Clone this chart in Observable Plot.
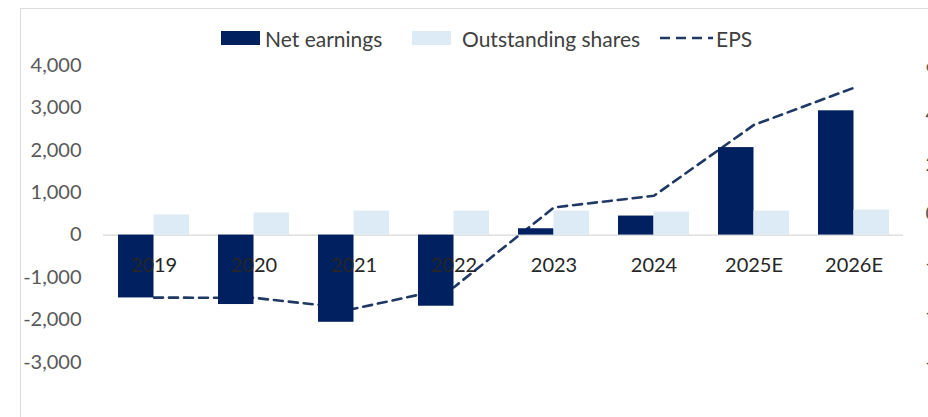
<!DOCTYPE html>
<html><head><meta charset="utf-8">
<script src="https://cdn.jsdelivr.net/npm/d3@7"></script>
<script src="https://cdn.jsdelivr.net/npm/@observablehq/plot@0.6"></script>
<style>
html,body{margin:0;padding:0;background:#fff;overflow:hidden;width:928px;height:417px}
#wrap{position:relative;width:928px;height:417px;font-family:Lato,sans-serif;overflow:hidden}
#border{position:absolute;left:20px;top:8px;width:2000px;height:2000px;border-left:1px solid #dcdcdc;border-top:1px solid #dcdcdc;pointer-events:none}
#legend{position:relative;height:50px;color:#404040;font-size:21px}
#legend .sw{position:absolute;top:31px;height:14px;width:39px}
#legend .tx{position:absolute;top:38px;transform:translateY(-50%);line-height:1;white-space:nowrap}
#legend svg{position:absolute;left:0;top:0}
#chart{position:relative}
</style></head>
<body>
<div id="wrap">
  <div id="border"></div>
  <div id="legend">
    <div class="sw" style="left:221px;background:#002060"></div>
    <div class="tx" style="left:265px">Net earnings</div>
    <div class="sw" style="left:412px;background:#ddebf7"></div>
    <div class="tx" style="left:462px">Outstanding shares</div>
    <svg width="928" height="50"><line x1="660" x2="713" y1="38" y2="38" stroke="#1f3864" stroke-width="2.6" stroke-dasharray="10,6"/></svg>
    <div class="tx" style="left:716px">EPS</div>
  </div>
  <div id="chart"></div>
</div>
<script>
const years = ["2019","2020","2021","2022","2023","2024","2025E","2026E"];
const netEarnings = [-1480,-1635,-2053,-1675,149,448,2060,2926];
const outstandingShares = [472,519,566,566,566,543,566,590];
const eps = [-3.38,-3.39,-3.83,-2.96,0.26,0.73,3.59,5.09];
const leftTicks = [-3000,-2000,-1000,0,1000,2000,3000,4000];
const rightTicks = [-6,-4,-2,0,2,4,6];
const leftDomain = [-3000,4000];
const rightDomain = [-6,6];

const toLeft = v => leftDomain[0] + (v - rightDomain[0]) / (rightDomain[1] - rightDomain[0]) * (leftDomain[1] - leftDomain[0]);
const fromLeft = L => rightDomain[0] + (L - leftDomain[0]) / (leftDomain[1] - leftDomain[0]) * (rightDomain[1] - rightDomain[0]);

const rows = years.map((year, i) => ({year, ne: netEarnings[i], sh: outstandingShares[i], epsL: toLeft(eps[i])}));

const W = 928, H = 367, mL = 103, mR = 25;
const pIn = 0.29, pOut = pIn / 2;
const step = (W - mL - mR) / (years.length - pIn + 2 * pOut);
const half = step * (1 - pIn) / 2;

const chart = Plot.plot({
  width: W, height: H,
  marginLeft: mL, marginRight: mR, marginTop: 14.7, marginBottom: 55,
  style: {fontFamily: "Lato, sans-serif", fontSize: "20px", background: "transparent", overflow: "hidden"},
  x: {domain: years, paddingInner: pIn, paddingOuter: pOut, axis: null},
  y: {domain: leftDomain, axis: null},
  marks: [
    Plot.ruleY([0], {stroke: "#d9d9d9", strokeWidth: 1.3}),
    Plot.line(rows, {x: "year", y: "epsL", stroke: "#1f3864", strokeWidth: 2.6, strokeDasharray: "9,6", curve: "linear"}),
    Plot.barY(rows, {x: "year", y: "ne", fill: "#002060", insetRight: half}),
    Plot.barY(rows, {x: "year", y: "sh", fill: "#ddebf7", insetLeft: half}),
    Plot.axisY({ticks: leftTicks, tickSize: 0, tickPadding: 22, tickFormat: d => d.toLocaleString("en-US"), fill: "#595959"}),
    Plot.axisY({anchor: "right", ticks: rightTicks.map(toLeft), tickSize: 0, tickPadding: 22, tickFormat: d => String(Math.round(fromLeft(d))), fill: "#595959"}),
    Plot.text(rows, {x: "year", y: 0, text: "year", dy: 31, fill: "#262626"})
  ]
});
document.getElementById("chart").appendChild(chart);
</script>
</body></html>
